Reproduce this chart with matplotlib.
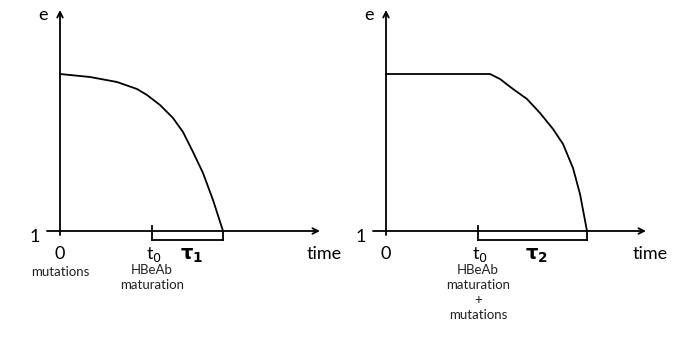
"""Two schematic panels: decay of e over time after HBeAb maturation."""
import matplotlib.pyplot as plt

plt.rcParams['font.family'] = ['Lato', 'DejaVu Sans']
plt.rcParams['mathtext.fontset'] = 'dejavusans'

# Curve values (time units, e units; x-axis sits at e = 1)
left_time = [0, 3.0, 5.7, 7.7, 8.7, 10.0, 11.3, 12.3, 13.3, 14.3, 15.3, 16.3]
left_e = [16.7, 16.4, 15.9, 15.2, 14.6, 13.6, 12.3, 10.9, 8.9, 6.8, 4.1, 1.0]
right_time = [0, 10.4, 11.4, 12.7, 14.1, 15.4, 16.7, 17.7, 18.7, 19.4, 20.1]
right_e = [16.7, 16.7, 16.2, 15.2, 14.2, 12.8, 11.2, 9.7, 7.3, 4.7, 1.0]

t0 = 9.2
tau_labels = [r'$\mathbf{\tau_1}$', r'$\mathbf{\tau_2}$']
t0_notes = ['HBeAb\nmaturation', 'HBeAb\nmaturation\n+\nmutations']
origin_notes = ['mutations', '']

line_kws = {'color': 'black', 'lw': 1.3}
big_font = {'fontsize': 13}
small_font = {'fontsize': 9.5}

fig = plt.figure(figsize=(6.99, 3.39), dpi=100)
ax_l = fig.add_axes([0, 0, 350 / 699, 1])
ax_r = fig.add_axes([350 / 699, 0, 349 / 699, 1])
ax_l.set_xlim(-6, 29)
ax_r.set_xlim(-3.6, 31.3)
for ax in (ax_l, ax_r):
    ax.set_ylim(-9.8, 24.1)
    ax.axis('off')

panels = [
    (ax_l, left_time, left_e, tau_labels[0], t0_notes[0], origin_notes[0]),
    (ax_r, right_time, right_e, tau_labels[1], t0_notes[1], origin_notes[1]),
]

for ax, t, e, tau, note, onote in panels:
    end = t[-1]
    # Axes with arrows
    ax.annotate('', xy=(26.0, 1), xytext=(-1.3, 1),
                arrowprops=dict(arrowstyle='->', lw=1.3, color='black',
                                shrinkA=0, shrinkB=0))
    ax.annotate('', xy=(0, 23.1), xytext=(0, 0.6),
                arrowprops=dict(arrowstyle='->', lw=1.3, color='black',
                                shrinkA=0, shrinkB=0))
    # Curve
    ax.plot(t, e, **line_kws)
    # t0 tick and tau bar
    ax.plot([t0, t0], [0.1, 1.5], **line_kws)
    ax.plot([end, end], [0.1, 1.0], **line_kws)
    ax.plot([t0, end], [0.1, 0.1], **line_kws)

    # Labels
    ax.text(-1.7, 22.6, 'e', ha='center', va='center', **big_font)
    ax.text(-2.5, 0.4, '1', ha='center', va='center', **big_font)
    ax.text(0, -1.3, '0', ha='center', va='center', **big_font)
    ax.text(t0 + 0.2, -1.3, r't$_0$', ha='center', va='center', **big_font)
    ax.text((t0 + end) / 2 + 0.4, -1.5, tau, ha='center', va='center',
            fontsize=14)
    ax.text(26.4, -1.3, 'time', ha='center', va='center', **big_font)
    ax.text(t0, -2.3, note, ha='center', va='top', linespacing=1.3,
            color='#222222', **small_font)
    if onote:
        ax.text(0, -3.1, onote, ha='center', va='center', color='#222222',
                **small_font)

fig.savefig('out.png', dpi=100)
